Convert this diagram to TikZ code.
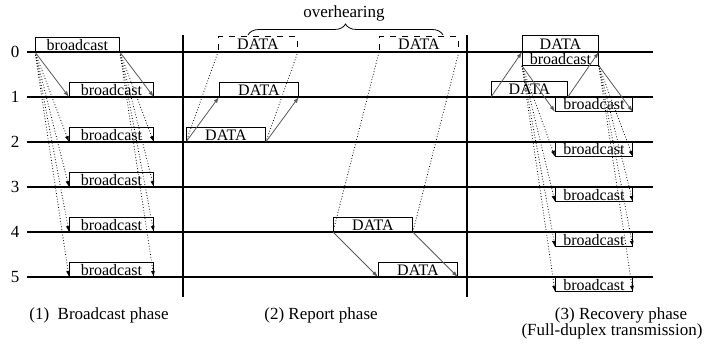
\documentclass[tikz,border=0pt]{standalone}
\usepackage{fontspec}
\setmainfont{Liberation Serif}
\usetikzlibrary{arrows.meta,decorations.pathreplacing}

\tikzset{
  box/.style={draw, thin, inner sep=0pt, text height=5.6pt, text depth=0pt, minimum height=7pt, font=\rmfamily\fontsize{8}{9}\selectfont},
  bbox/.style={box, minimum width=42pt},
  dbox/.style={box, minimum width=39.5pt},
  rowline/.style={line width=0.9pt},
  sepline/.style={line width=1.1pt},
  tx/.style={-{Latex[length=3pt,width=2pt]}, gray!70!black, thin},
  dt/.style={tx, densely dotted, black},
  ovl/.style={densely dotted, black, thin}
}

\begin{document}
\begin{tikzpicture}[x=0.5pt,y=-0.5pt,font=\rmfamily\fontsize{8.5}{10}\selectfont]
\useasboundingbox (0,0) rectangle (705,347);
\foreach \i/\y in {0/52,1/97,2/142,3/187,4/232,5/277}{
  \node (r\i) at (15,\y) {\i};
  \draw[rowline] (27,\y) -- (653,\y);
}
\draw[sepline] (183,35) -- (183,297);
\draw[sepline] (467,35) -- (467,297);

\node[bbox, anchor=south west] (bc0) at (35,52) {broadcast};
\foreach \i/\y in {1/97,2/142,3/187,4/232,5/277}
  \node[bbox, anchor=south west] (bc\i) at (69,\y) {broadcast};
\draw[tx] (bc0.south west) -- (bc1.south west);
\draw[tx] (bc0.south east) -- (bc1.south east);
\foreach \i in {2,...,5}{
  \draw[dt] (bc0.south west) -- (bc\i.south west);
  \draw[dt] (bc0.south east) -- (bc\i.south east);
}

\node[dbox, dashed, minimum height=7.5pt, anchor=south west] (ov1) at (218,52) {DATA};
\node[dbox, dashed, minimum height=7.5pt, anchor=south west] (ov2) at (379,52) {DATA};
\node[dbox, anchor=south west] (rp1) at (219,97) {DATA};
\node[dbox, anchor=south west] (rp2) at (186,142) {DATA};
\node[dbox, anchor=south west] (rp4) at (333,232) {DATA};
\node[dbox, anchor=south west] (rp5) at (378,277) {DATA};
\draw[tx] (rp2.south west) -- (rp1.south west);
\draw[tx] (rp2.south east) -- (rp1.south east);
\draw[tx] (rp4.south west) -- (rp5.south west);
\draw[tx] (rp4.south east) -- (rp5.south east);
\draw[ovl] (rp2.south west) -- (ov1.south west);
\draw[ovl] (rp2.south east) -- (ov1.south east);
\draw[ovl] (rp4.south west) -- (ov2.south west);
\draw[ovl] (rp4.south east) -- (ov2.south east);
\draw[decorate, decoration={brace, amplitude=5.5pt}] (248,35) -- (443,35);
\node (ovh) at (344,13) {overhearing};

\node[box, minimum width=38pt, minimum height=8pt, anchor=south west] (rd0) at (522,52) {DATA};
\node[box, minimum width=38pt, minimum height=6.5pt, anchor=north west] (rb0) at (522,52) {broadcast};
\node[box, minimum width=38pt, minimum height=7.5pt, anchor=south west] (rd1) at (491,97) {DATA};
\foreach \i/\y in {1/97,2/142,3/187,4/232,5/277}
  \node[box, minimum width=38.5pt, anchor=north west] (rb\i) at (555,\y) {broadcast};
\draw[tx] (rd1.south west) -- (rd0.south west);
\draw[tx] (rd1.south east) -- (rd0.south east);
\draw[tx] (rb0.south west) -- (rb1.south west);
\draw[tx] (rb0.south east) -- (rb1.south east);
\foreach \i in {2,...,5}{
  \draw[dt] (rb0.south west) -- (rb\i.south west);
  \draw[dt] (rb0.south east) -- (rb\i.south east);
}

\node (ph1) at (99,315) {(1)\ \ Broadcast phase};
\node (ph2) at (321,315) {(2) Report phase};
\node (ph3) at (621,315) {(3) Recovery phase};
\node (ph3b) at (612,331) {(Full-duplex transmission)};
\end{tikzpicture}
\end{document}
